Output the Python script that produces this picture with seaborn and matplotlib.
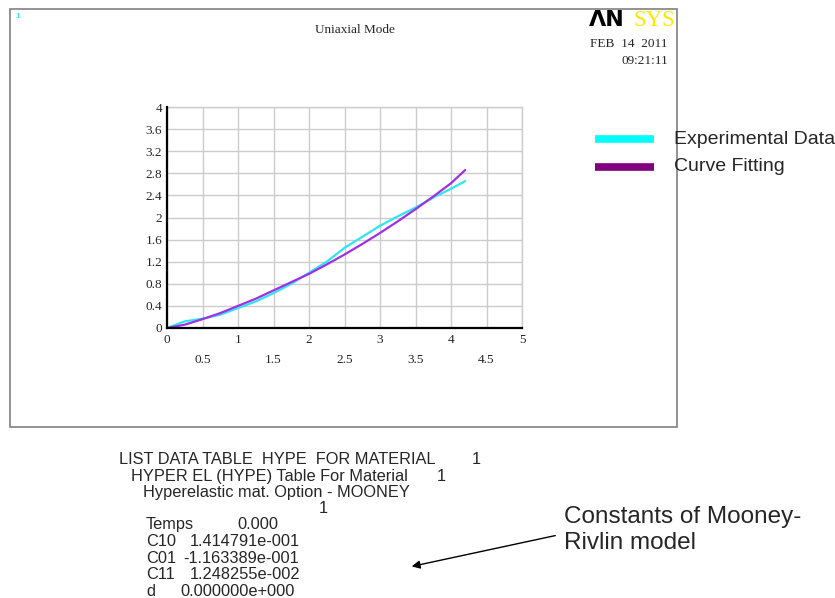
import numpy as np
import pandas as pd
import matplotlib
matplotlib.use("Agg")
import matplotlib.pyplot as plt
from matplotlib.patches import Rectangle, FancyArrowPatch
import seaborn as sns

# ---- data ----
exp_x = [0, 0.25, 0.5, 0.75, 1.0, 1.25, 1.5, 1.75, 2.0, 2.25, 2.5, 2.75, 3.0, 3.25, 3.5, 3.75, 4.0, 4.2]
exp_y = [0, 0.12, 0.17, 0.24, 0.36, 0.48, 0.63, 0.80, 1.00, 1.20, 1.45, 1.65, 1.85, 2.02, 2.18, 2.36, 2.52, 2.66]
fit_x = [0, 0.25, 0.5, 0.75, 1.0, 1.25, 1.5, 1.75, 2.0, 2.25, 2.5, 2.75, 3.0, 3.25, 3.5, 3.75, 4.0, 4.2]
fit_y = [0, 0.06, 0.16, 0.27, 0.40, 0.53, 0.68, 0.83, 0.98, 1.15, 1.33, 1.52, 1.72, 1.93, 2.15, 2.38, 2.62, 2.86]
x_major = [0, 1, 2, 3, 4, 5]
x_minor = [0.5, 1.5, 2.5, 3.5, 4.5]
y_ticks = [0, 0.4, 0.8, 1.2, 1.6, 2, 2.4, 2.8, 3.2, 3.6, 4]
legend_labels = ["Experimental Data", "Curve Fitting"]
table_lines = [
    "LIST DATA TABLE  HYPE  FOR MATERIAL",
    "HYPER EL (HYPE) Table For Material",
    "Hyperelastic mat. Option - MOONEY",
]
table_nums = ["1", "1", "", "1"]
const_names = ["Temps", "C10", "C01", "C11", "d"]
const_vals = ["0.000", "1.414791e-001", "-1.163389e-001", "1.248255e-002", "0.000000e+000"]
note_lines = ["Constants of Mooney-", "Rivlin model"]

W, H = 835, 598
sns.set_theme(style="white")
plt.rcParams['font.family'] = ['Liberation Sans', 'DejaVu Sans']
fig = plt.figure(figsize=(W / 100, H / 100), dpi=100)


def fx(px):
    return px / W


def fy(py):
    return 1 - py / H


# frame
fig.patches.append(Rectangle((fx(10), fy(427)), fx(677) - fx(10), fy(9) - fy(427),
                             transform=fig.transFigure, fill=False, edgecolor="#808080", lw=1.2))

ax = fig.add_axes([fx(167), fy(328), fx(522) - fx(167), fy(107) - fy(328)])
df = pd.concat([
    pd.DataFrame({"x": exp_x, "y": exp_y, "s": legend_labels[0]}),
    pd.DataFrame({"x": fit_x, "y": fit_y, "s": legend_labels[1]}),
])
sns.lineplot(data=df, x="x", y="y", hue="s", palette=["#30E6EE", "#A030E6"],
             ax=ax, legend=False, linewidth=1.6, sort=False)
ax.set_xlim(0, 5)
ax.set_ylim(0, 4)
ax.set_xticks(x_major)
ax.set_xticks(x_minor, minor=True)
ax.set_yticks(y_ticks)
ax.set_xticklabels([str(v) for v in x_major], family="Liberation Serif", fontsize=9.5)
ax.set_xticklabels([str(v) for v in x_minor], minor=True, family="Liberation Serif", fontsize=9.5)
ax.set_yticklabels(["0" if v == 0 else ("%g" % v) for v in y_ticks], family="Liberation Serif", fontsize=9.5)
ax.tick_params(axis="x", which="major", length=0, pad=4)
ax.tick_params(axis="x", which="minor", length=0, pad=19)
ax.tick_params(axis="y", length=0, pad=3.5)
ax.grid(True, which="both", color="#CCCCCC", lw=1)
ax.set_xlabel("")
ax.set_ylabel("")
for s in ["top", "right"]:
    ax.spines[s].set_color("#CCCCCC")
    ax.spines[s].set_linewidth(1)
for s in ["left", "bottom"]:
    ax.spines[s].set_color("black")
    ax.spines[s].set_linewidth(1.6)
    ax.spines[s].set_zorder(5)
ax.set_facecolor("white")

# header texts
fig.text(fx(15), fy(16), "1", color="#40E0F0", fontsize=6, fontweight="bold", va="center")
fig.text(fx(355), fy(30), "Uniaxial Mode", family="Liberation Serif", fontsize=9.5, ha="center", va="center")
fig.text(fx(668), fy(44), "FEB  14  2011", family="Liberation Serif", fontsize=9.5, ha="right", va="center")
fig.text(fx(668), fy(61), "09:21:11", family="Liberation Serif", fontsize=9.5, ha="right", va="center")
fig.text(fx(589), fy(26), "ΛN", family="DejaVu Sans", fontsize=16, fontweight="heavy", color="black", va="baseline")
fig.text(fx(675), fy(26), "SYS", family="Liberation Serif", fontsize=16.5, color="#FFE800", ha="right", va="baseline")

# legend
cols = ["#00FFFF", "#800080"]
for i, (lab, c) in enumerate(zip(legend_labels, cols)):
    yy = 139 + i * 28
    fig.add_artist(plt.Line2D([fx(595), fx(654)], [fy(yy), fy(yy)], color=c, lw=5.5,
                              solid_capstyle="butt", transform=fig.transFigure))
    fig.text(fx(674), fy(yy), lab, fontsize=14, va="center")

# table text
FS = 11.8
tbl_x = [119, 131, 143]
tbl_num_x = [472, 437, None, 319]
tbl_base = [464, 481, 497, 513]
for i, t in enumerate(table_lines):
    fig.text(fx(tbl_x[i]), fy(tbl_base[i]), t, fontsize=FS, va="baseline")
for i, n in enumerate(table_nums):
    if n:
        fig.text(fx(tbl_num_x[i]), fy(tbl_base[i]), n, fontsize=FS, va="baseline")

val_x = [237, 190, 183, 190, 180]
const_base = [529, 546, 563, 579, 596]
for i, (n, v) in enumerate(zip(const_names, const_vals)):
    fig.text(fx(146), fy(const_base[i]), n, fontsize=FS, va="baseline")
    fig.text(fx(val_x[i]), fy(const_base[i]), v, fontsize=FS, va="baseline")

fig.text(fx(564), fy(523), note_lines[0], fontsize=17.5, va="baseline")
fig.text(fx(564), fy(549), note_lines[1], fontsize=17.5, va="baseline")
fig.add_artist(FancyArrowPatch((fx(558), fy(535)), (fx(409), fy(567)),
                               transform=fig.transFigure, arrowstyle="-|>",
                               mutation_scale=12, color="black", lw=1))

fig.savefig("out.png", dpi=100, facecolor="white")
